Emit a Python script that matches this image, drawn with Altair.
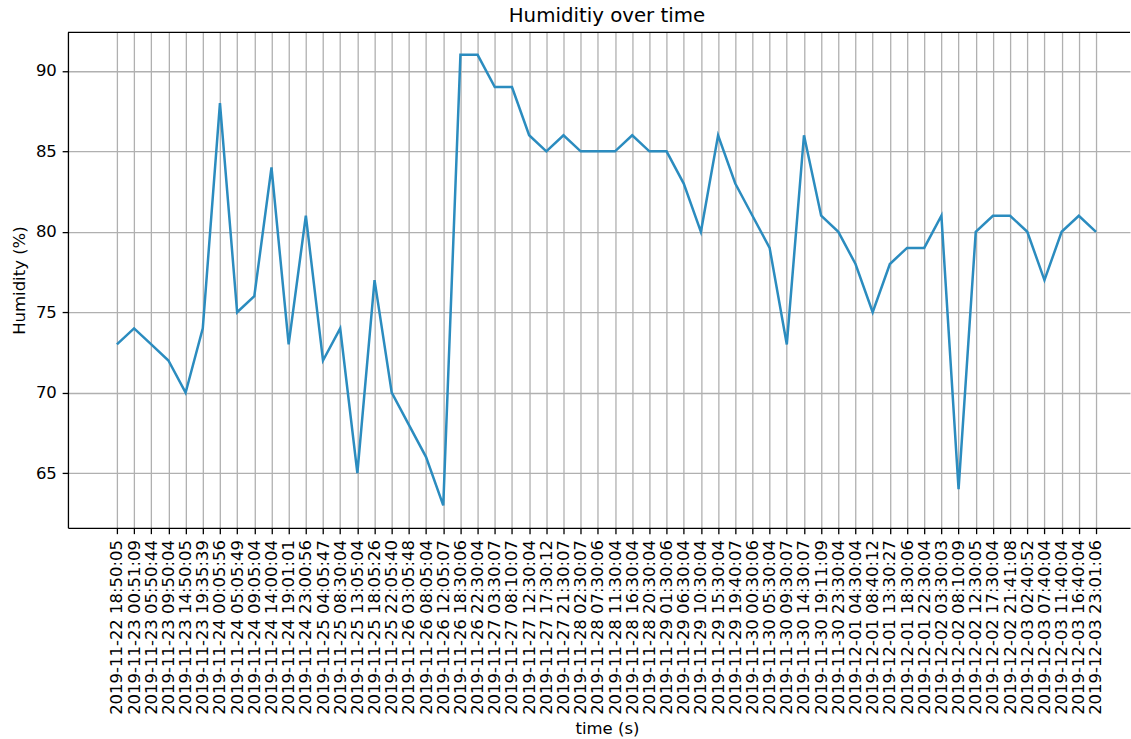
import json

import altair as alt
import pandas as pd

# Sample timestamps (x categories, in recorded order)
times = [
    "2019-11-22 18:50:05", "2019-11-23 00:51:09", "2019-11-23 05:50:44",
    "2019-11-23 09:50:04", "2019-11-23 14:50:05", "2019-11-23 19:35:39",
    "2019-11-24 00:05:56", "2019-11-24 05:05:49", "2019-11-24 09:05:04",
    "2019-11-24 14:00:04", "2019-11-24 19:01:01", "2019-11-24 23:00:56",
    "2019-11-25 04:05:47", "2019-11-25 08:30:04", "2019-11-25 13:05:04",
    "2019-11-25 18:05:26", "2019-11-25 22:05:40", "2019-11-26 03:05:48",
    "2019-11-26 08:05:04", "2019-11-26 12:05:07", "2019-11-26 18:30:06",
    "2019-11-26 22:30:04", "2019-11-27 03:30:07", "2019-11-27 08:10:07",
    "2019-11-27 12:30:04", "2019-11-27 17:30:12", "2019-11-27 21:30:07",
    "2019-11-28 02:30:07", "2019-11-28 07:30:06", "2019-11-28 11:30:04",
    "2019-11-28 16:30:04", "2019-11-28 20:30:04", "2019-11-29 01:30:06",
    "2019-11-29 06:30:04", "2019-11-29 10:30:04", "2019-11-29 15:30:04",
    "2019-11-29 19:40:07", "2019-11-30 00:30:06", "2019-11-30 05:30:04",
    "2019-11-30 09:30:07", "2019-11-30 14:30:07", "2019-11-30 19:11:09",
    "2019-11-30 23:30:04", "2019-12-01 04:30:04", "2019-12-01 08:40:12",
    "2019-12-01 13:30:27", "2019-12-01 18:30:06", "2019-12-01 22:30:04",
    "2019-12-02 03:30:03", "2019-12-02 08:10:09", "2019-12-02 12:30:05",
    "2019-12-02 17:30:04", "2019-12-02 21:41:08", "2019-12-03 02:40:52",
    "2019-12-03 07:40:04", "2019-12-03 11:40:04", "2019-12-03 16:40:04",
    "2019-12-03 23:01:06",
]

# Relative humidity readings (%)
humidity = [
    73, 74, 73, 72, 70, 74, 88, 75, 76, 84,
    73, 81, 72, 74, 65, 77, 70, 68, 66, 63,
    91, 91, 89, 89, 86, 85, 86, 85, 85, 85,
    86, 85, 85, 83, 80, 86, 83, 81, 79, 73,
    86, 81, 80, 78, 75, 78, 79, 79, 81, 64,
    80, 81, 81, 80, 77, 80, 81, 80,
]

y_ticks = [65, 70, 75, 80, 85, 90]
y_domain = [61.6, 92.4]
# sample positions run 0..57; the axes box is cut off on the right
x_domain = [-2.85, 58.98]

df = pd.DataFrame({
    "idx": list(range(len(times))),
    "time": times,
    "humidity": humidity,
})

W, H = 1063, 496
FONT = "DejaVu Sans"

# each tick shows the timestamp for its sample position
label_expr = json.dumps(times) + "[datum.value]"

line = alt.Chart(df).mark_line(color="#2b8cbf", strokeWidth=2.5).encode(
    x=alt.X(
        "idx:Q",
        title="time (s)",
        scale=alt.Scale(domain=x_domain, nice=False, zero=False),
        axis=alt.Axis(
            values=list(range(len(times))),
            labelExpr=label_expr,
            labelAngle=270,
            grid=True,
            titlePadding=6,
            titleX=539.5,
        ),
    ),
    y=alt.Y(
        "humidity:Q",
        title="Humidity (%)",
        scale=alt.Scale(domain=y_domain, nice=False, zero=False),
        axis=alt.Axis(values=y_ticks, grid=True, titlePadding=8),
    ),
    order="idx:Q",
)

# top frame line of the axes box
frame_top = alt.Chart(pd.DataFrame({"edge": [0]})).mark_rule(
    color="black", strokeWidth=1.3
).encode(x=alt.value(0), x2=alt.value(W), y=alt.value(0))

chart = (
    alt.layer(line, frame_top)
    .properties(
        width=W,
        height=H,
        padding={"left": 11, "top": 5, "right": 0, "bottom": 2},
        title=alt.TitleParams(
            "Humiditiy over time",
            font=FONT,
            fontSize=19.8,
            fontWeight="normal",
            color="black",
            anchor="middle",
            dx=8,
            offset=6,
        ),
    )
    .configure_view(stroke=None)
    .configure_axis(
        labelFont=FONT,
        titleFont=FONT,
        labelFontSize=16.5,
        titleFontSize=16.5,
        titleFontWeight="normal",
        labelColor="black",
        titleColor="black",
        domainColor="black",
        domainWidth=1.3,
        tickColor="black",
        tickWidth=1.3,
        tickSize=5.8,
        labelPadding=5.8,
        gridColor="#b0b0b0",
        gridWidth=1.3,
        labelOverlap=False,
        labelFlush=False,
    )
)

chart.save("out.html", embed_options={"renderer": "svg", "actions": False})
